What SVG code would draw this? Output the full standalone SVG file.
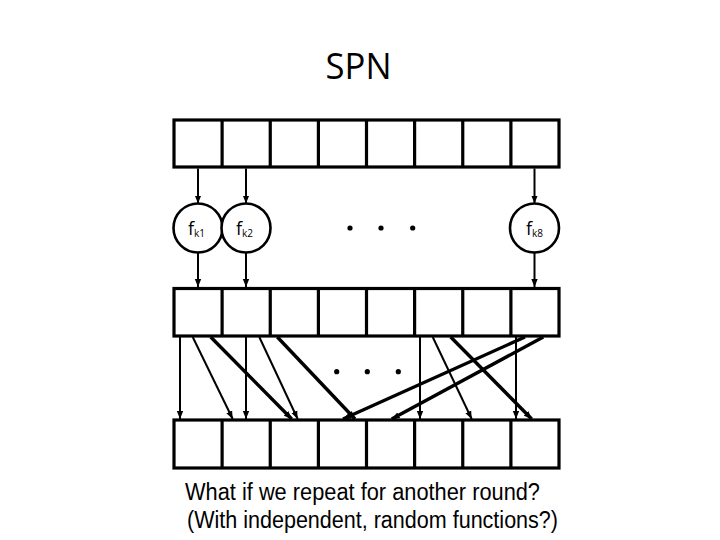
<svg xmlns="http://www.w3.org/2000/svg" width="720" height="540" viewBox="0 0 720 540">
<style>
.row{fill:#fff;stroke:#000;stroke-width:3.2}
.div{stroke:#000;stroke-width:3.2}
.node circle{fill:#fff;stroke:#000;stroke-width:2.6}
.lbl{font-family:"Open Sans","Liberation Sans",Arial,sans-serif;font-size:18px;fill:#000}
.sub{font-size:10px}
.thin{stroke:#000;stroke-width:2;fill:none;marker-end:url(#ah)}
.thick{stroke:#000;stroke-width:3.4;fill:none;marker-end:url(#ah)}
.dot{fill:#000}
.txt{font-family:"Open Sans","Liberation Sans",Arial,sans-serif;fill:#000}
.cap{font-family:"Liberation Sans",Arial,sans-serif;fill:#000;font-size:23px}
</style>
<defs>
<marker id="ah" viewBox="0 0 10 10" refX="10" refY="5" markerWidth="8" markerHeight="8" markerUnits="userSpaceOnUse" orient="auto">
<path d="M0,1 L10,5 L0,9 z" fill="#000"/>
</marker>
</defs>
<rect width="720" height="540" fill="#fff"/>
<text class="txt" x="358.5" y="79" font-size="36" text-anchor="middle" textLength="66" lengthAdjust="spacingAndGlyphs">SPN</text>

<g id="row1">
<rect class="row" x="174" y="120" width="385" height="47"/>
<path class="div" d="M222.1,120V167M270.25,120V167M318.4,120V167M366.5,120V167M414.6,120V167M462.75,120V167M510.9,120V167"/>
</g>
<g id="row2">
<rect class="row" x="174" y="288.5" width="385" height="47.5"/>
<path class="div" d="M222.1,288.5V336M270.25,288.5V336M318.4,288.5V336M366.5,288.5V336M414.6,288.5V336M462.75,288.5V336M510.9,288.5V336"/>
</g>
<g id="row3">
<rect class="row" x="174" y="420" width="385" height="48"/>
<path class="div" d="M222.1,420V468M270.25,420V468M318.4,420V468M366.5,420V468M414.6,420V468M462.75,420V468M510.9,420V468"/>
</g>

<g id="fk1" class="node">
<circle cx="198" cy="228" r="24.5"/>
<text class="lbl" x="188" y="235">f<tspan class="sub" dy="2">k1</tspan></text>
</g>
<g id="fk2" class="node">
<circle cx="246" cy="228" r="24.5"/>
<text class="lbl" x="236" y="235">f<tspan class="sub" dy="2">k2</tspan></text>
</g>
<g id="fk8" class="node">
<circle cx="534.5" cy="228" r="24.5"/>
<text class="lbl" x="526" y="235">f<tspan class="sub" dy="2">k8</tspan></text>
</g>

<g id="dots">
<circle class="dot" cx="350" cy="228" r="2.6"/>
<circle class="dot" cx="381" cy="228" r="2.6"/>
<circle class="dot" cx="412.7" cy="228" r="2.6"/>
<circle class="dot" cx="336.7" cy="371.7" r="2.6"/>
<circle class="dot" cx="367.3" cy="371.7" r="2.6"/>
<circle class="dot" cx="398.3" cy="371.7" r="2.6"/>
</g>

<g id="connectors">
<line class="thin" x1="198" y1="168.5" x2="198" y2="203.5"/>
<line class="thin" x1="246" y1="168.5" x2="246" y2="203.5"/>
<line class="thin" x1="534.5" y1="168.5" x2="534.5" y2="203.5"/>
<line class="thin" x1="198" y1="252.5" x2="198" y2="287"/>
<line class="thin" x1="246" y1="252.5" x2="246" y2="287"/>
<line class="thin" x1="534.5" y1="252.5" x2="534.5" y2="287"/>

<line class="thin" x1="180" y1="337" x2="180" y2="419"/>
<line class="thin" x1="192.7" y1="337" x2="232.7" y2="419"/>
<line class="thick" x1="210.7" y1="337" x2="291.7" y2="419"/>
<line class="thin" x1="246" y1="337" x2="246" y2="419"/>
<line class="thin" x1="259.3" y1="337" x2="297.7" y2="419"/>
<line class="thick" x1="277.3" y1="337" x2="355" y2="419"/>
<line class="thin" x1="420" y1="337" x2="420" y2="419"/>
<line class="thin" x1="432.7" y1="337" x2="471.7" y2="419"/>
<line class="thick" x1="450.7" y1="337" x2="531.7" y2="419"/>
<line class="thin" x1="516" y1="337" x2="516" y2="419"/>
<line class="thick" x1="525" y1="337" x2="343" y2="419"/>
<line class="thick" x1="543.3" y1="337" x2="391.7" y2="419"/>
</g>

<text class="cap" x="185" y="500" textLength="355" lengthAdjust="spacingAndGlyphs">What if we repeat for another round?</text>
<text class="cap" x="187" y="528" textLength="371" lengthAdjust="spacingAndGlyphs">(With independent, random functions?)</text>
</svg>
